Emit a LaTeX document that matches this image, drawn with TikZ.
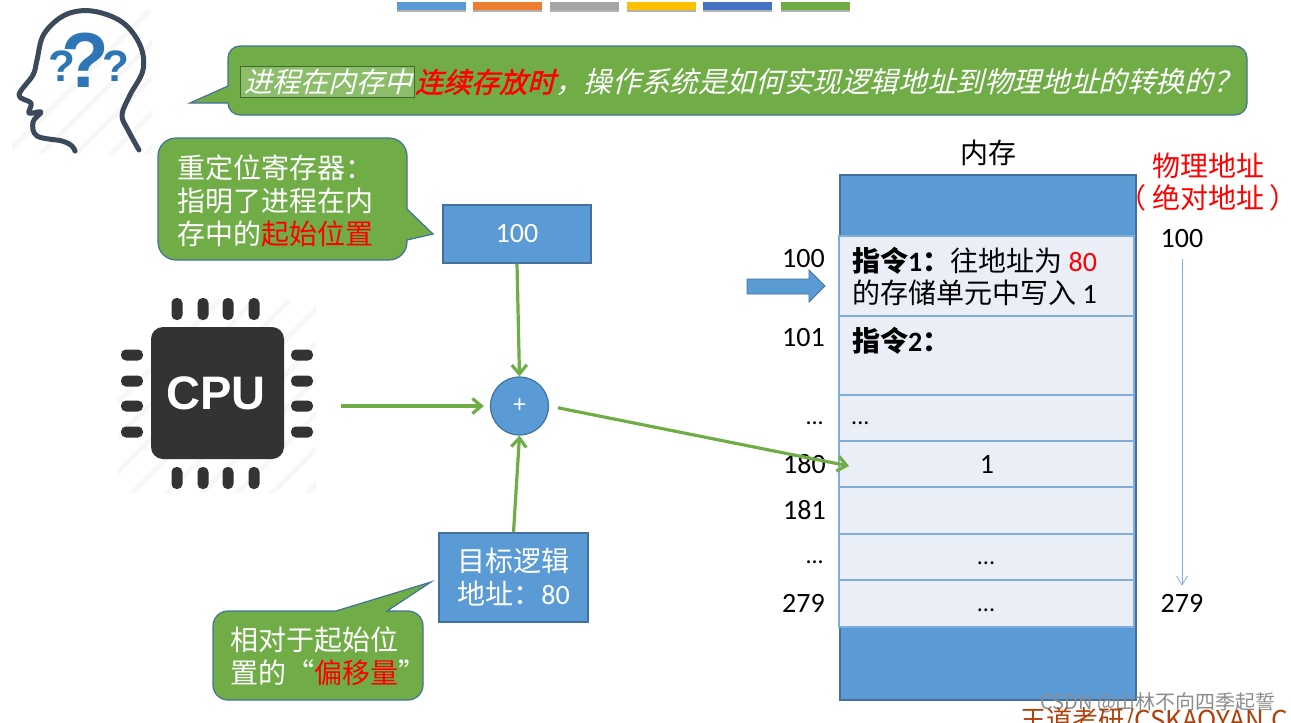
\documentclass[tikz,border=0pt]{standalone}
\usepackage{fontspec}
\setmainfont{Carlito}
\newfontfamily\cjk{Noto Sans CJK SC}
\newfontfamily\cjkit[FakeSlant=0.25]{Noto Sans CJK SC}
\newfontfamily\cjkitb[FakeSlant=0.25,FakeBold=1.5]{Noto Sans CJK SC}
\newfontfamily\arialb{Liberation Sans Bold}
\usetikzlibrary{arrows.meta}
\definecolor{bluefill}{HTML}{5B9BD5}
\definecolor{blueline}{HTML}{41719C}
\definecolor{greenfill}{HTML}{70AD47}
\definecolor{cellfill}{HTML}{E9EEF7}
\definecolor{cellline}{HTML}{7FAEDD}
\definecolor{headcolor}{HTML}{3B4A5A}
\definecolor{markcolor}{HTML}{2E75B6}
\definecolor{wmcolor}{HTML}{B0400A}
\newcommand{\redtext}[1]{\textcolor{red}{#1}}
\newcommand{\txt}[1]{\fontsize{#1}{#1}\selectfont}
\tikzset{
    label/.style={inner sep=0pt, font=\txt{28}},
    dots/.style={inner sep=0pt, font=\txt{24}},
    bubble/.style={draw=blueline, fill=greenfill, line width=1.2pt},
    bubbletext/.style={inner sep=0pt, anchor=west, align=left, text=white, font={\fontsize{28}{33}\selectfont\cjk}},
    bluebox/.style={draw=blueline, fill=bluefill, line width=1.2pt, text=white, align=center, font={\fontsize{28}{33}\selectfont}},
    memcell/.style={draw=cellline, fill=cellfill, line width=1.8pt},
    greenarrow/.style={draw=greenfill, line width=3.2pt, -{Straight Barb[length=9pt,width=15pt]}},
    pin/.style={fill=black!80, rounded corners=5pt},
    hatch/.style={draw=black!3, line width=5pt},
    qmark/.style={inner sep=0pt, text=markcolor},
}
\begin{document}
\begin{tikzpicture}[x=1pt, y=-1pt]
\useasboundingbox (0,0) rectangle (1291,723);
\clip (0,0) rectangle (1291,723);

% top bars
\foreach \xpos/\barcolor in {397/5B9BD5, 473/ED7D31, 550/A5A5A5, 627/FFC000, 703/4472C4, 781/70AD47} {
    \definecolor{barfill}{HTML}{\barcolor}
    \fill[black!30] (\xpos,4) rectangle ++(69,8);
    \fill[barfill] (\xpos,2) rectangle ++(69,8);
}

% head
\begin{scope}
    \clip (12,8) rectangle (152,153);
    \foreach \d in {0,35,...,280} {
        \draw[hatch] (\d,160) -- ++(150,-150);
    }
\end{scope}
\draw[headcolor, line width=5pt, line cap=round, line join=round] plot[smooth, tension=0.6] coordinates {
    (139,150) (128,130) (122,115) (130,95) (143,70) (140,45) (122,22) (92,11) (65,15) (44,34) (37,60) (33,75) (19,95) (31,103) (29,113) (41,112) (33,122) (37,136) (62,141) (72,146) (75,151)};
\node[qmark, font={\txt{44}\arialb}] (markleft) at (62,66) {?};
\node[qmark, font={\txt{78}\arialb}] (markmid) at (85,60) {?};
\node[qmark, font={\txt{44}\arialb}] (markright) at (116,66) {?};

% question
\draw[bubble] (228,103) [rounded corners=12pt] -- (228,115) -- (1247,115) -- (1247,46) -- (228,46) [sharp corners] -- (228,86) -- (190,103) -- cycle;
\fill[white, fill opacity=0.2] (240,66) rectangle (414,97);
\draw[greenfill!60!black, line width=0.5pt] (240,66) rectangle (414,97);
\node[inner sep=0pt, anchor=west, text=white, font=\txt{28}] (question) at (244,82) {{\cjkit 进程在内存中}\kern3pt{\cjkitb\redtext{连续存放时}}{\txt{28.6}\cjkit ，操作系统是如何实现逻辑地址到物理地址的转换的？}};

% relocation register
\draw[bubble] (407,209) [rounded corners=18pt] -- (407,138) -- (158,138) -- (158,260) -- (407,260) [sharp corners] -- (407,240) -- (433,234) -- cycle;
\node[bubbletext] (regnote) at (177,201) {重定位寄存器：\\指明了进程在内\\存中的\redtext{起始位置}};
\node[bluebox, minimum width=148pt, minimum height=58pt] (reg) at (517,234) {100};

% cpu
\begin{scope}
    \clip (118,295) rectangle (316,492);
    \foreach \d in {0,35,...,350} {
        \draw[hatch] (\d+20,500) -- ++(200,-200);
    }
\end{scope}
\fill[black!80, rounded corners=12pt] (151,327) rectangle (284,459);
\foreach \xpos in {177,203,228,254} {
    \fill[pin] (\xpos-5.5,298) rectangle ++(11,22);
    \fill[pin] (\xpos-5.5,467) rectangle ++(11,22);
}
\foreach \ypos in {355,381,406,432} {
    \fill[pin] (121,\ypos-5.5) rectangle ++(22,11);
    \fill[pin] (291,\ypos-5.5) rectangle ++(22,11);
}
\node[inner sep=0pt, text=white, font={\txt{47}\arialb}] (cpu) at (216,393) {CPU};
\coordinate (cpuout) at (341,406);

% adder
\node[circle, draw=blueline, fill=bluefill, line width=1.2pt, minimum size=58pt, inner sep=0pt, text=white, font=\txt{25}] (adder) at (519.5,406) {+};

% offset
\node[bluebox, minimum width=149pt, minimum height=89pt] (offset) at (513.5,577.5) {{\cjk 目标逻辑}\\{\cjk 地址：}80};
\draw[bubble] (336,611) [rounded corners=15pt] -- (213,611) -- (213,700) -- (423,700) -- (423,611) [sharp corners] -- (387,611) -- (431,582) -- cycle;
\node[bubbletext] (offsetnote) at (230,656) {相对于起始位\\置的“\redtext{偏移量}”};

% memory
\node[label, font={\txt{28}\cjk}] (memtitle) at (988,153) {内存};
\draw[draw=blueline, fill=bluefill, line width=1.5pt] (840,175) rectangle (1136,700);
\foreach \ytop/\ybot in {236/316, 316/395, 395/441, 441/487, 487/534, 534/580, 580/627} {
    \draw[memcell] (839,\ytop) rectangle (1134,\ybot);
}
\node[label, anchor=east] (a100) at (825,259) {100};
\node[label, anchor=east] (a101) at (825,338) {101};
\node[dots, anchor=east] (adots) at (824,423) {...};
\node[label, anchor=east] (a180) at (826,464) {180};
\node[label, anchor=east] (a181) at (826,510) {181};
\node[dots, anchor=east] (adots2) at (824,562) {...};
\node[label, anchor=east] (a279) at (825,603) {279};

\node[label, anchor=west, align=left, font={\fontsize{28}{32}\selectfont}] (instr1) at (852,276) {{\cjk\bfseries 指令}\textbf{1}{\cjk\bfseries ：}{\cjk 往地址为} \redtext{80}\\{\cjk 的存储单元中写入} 1};
\node[label, anchor=west, font={\txt{28}}] (instr2) at (852,341) {{\cjk\bfseries 指令}\textbf{2}{\cjk\bfseries ：}};
\node[dots, anchor=west] (cdots) at (851,423) {...};
\node[label] (cell180) at (987,464) {1};
\node[dots] (cdots2) at (986,563) {...};
\node[dots] (cdots3) at (986,610) {...};
\coordinate (cellin) at (849,466);

\fill[bluefill] (747,279) -- (809,279) -- (809,270) -- (825,286) -- (809,302) -- (809,294) -- (747,294) -- cycle;
\draw[blueline, line width=0.8pt] (747,279) -- (809,279) -- (809,270) -- (825,286) -- (809,302) -- (809,294) -- (747,294) -- cycle;

% physical address
\node[label, align=center, text=red, font={\fontsize{28}{32}\selectfont\cjk}] (phys) at (1208,182) {物理地址\\\kern-14pt（\kern6pt 绝对地址\kern6pt ）\kern-14pt};
\node[label] (p100) at (1182,239) {100};
\node[label] (p279) at (1182,603) {279};
\draw[draw=cellline, line width=0.8pt, -{Straight Barb[length=9pt,width=11pt]}, shorten <=11pt, shorten >=8pt] (p100.south) -- (p279.north);

% connectors
\draw[greenarrow] (reg.south) -- (adder.north);
\draw[greenarrow, shorten >=6pt] (cpuout) -- (adder.west);
\draw[greenarrow] (offset.north) -- (adder.south);
\draw[greenarrow, shorten <=9pt] (adder.east) -- (cellin);

% watermark
\node[inner sep=0pt, anchor=west, text=black!45, font={\txt{20}\cjk}] (csdn) at (1040,703) {CSDN @山林不向四季起誓};
\node[inner sep=0pt, anchor=west, text=wmcolor, font={\txt{26}\cjk}] (wangdao) at (1020,721) {王道考研/CSKAOYAN.C};
\end{tikzpicture}
\end{document}
